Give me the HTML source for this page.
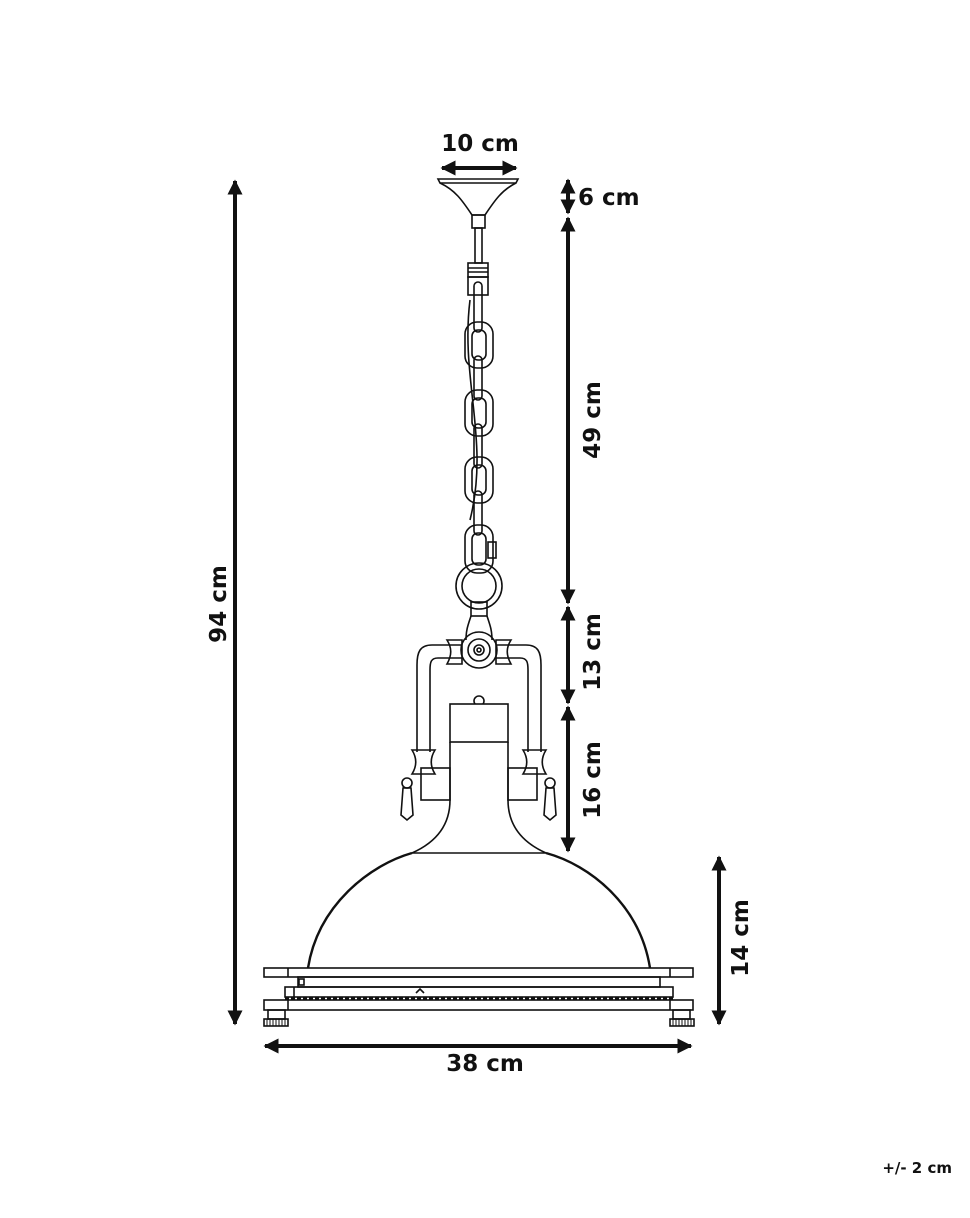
<!DOCTYPE html>
<html><head><style>
html,body{margin:0;padding:0;background:#fff;}
svg text{font-family:"DejaVu Sans","Liberation Sans",sans-serif;font-weight:bold;fill:#111;}
</style></head><body>
<svg width="970" height="1213" viewBox="0 0 970 1213" xmlns="http://www.w3.org/2000/svg">
<defs>
<marker id="a" viewBox="0 0 10 10" refX="9" refY="5" markerWidth="3.8" markerHeight="3.8" orient="auto-start-reverse"><path d="M0,0 L10,5 L0,10z" fill="#111"/></marker>
</defs>
<g stroke="#111" stroke-width="4" marker-start="url(#a)" marker-end="url(#a)">
<line x1="235" y1="181" x2="235" y2="1024"/>
<line x1="442" y1="168" x2="516" y2="168"/>
<line x1="568" y1="180" x2="568" y2="213"/>
<line x1="568" y1="218" x2="568" y2="603"/>
<line x1="568" y1="607" x2="568" y2="703"/>
<line x1="568" y1="707" x2="568" y2="851"/>
<line x1="719" y1="857" x2="719" y2="1024"/>
<line x1="265" y1="1046" x2="691" y2="1046"/>
</g>
<text x="480" y="151" font-size="23" text-anchor="middle">10 cm</text>
<text x="578" y="205" font-size="23">6 cm</text>
<text x="218" y="604" font-size="23" text-anchor="middle" transform="rotate(-90 218 604)" dy="8">94 cm</text>
<text x="592" y="420" font-size="23" text-anchor="middle" transform="rotate(-90 592 420)" dy="8">49 cm</text>
<text x="592" y="652" font-size="23" text-anchor="middle" transform="rotate(-90 592 652)" dy="8">13 cm</text>
<text x="592" y="780" font-size="23" text-anchor="middle" transform="rotate(-90 592 780)" dy="8">16 cm</text>
<text x="740" y="938" font-size="23" text-anchor="middle" transform="rotate(-90 740 938)" dy="8">14 cm</text>
<text x="485" y="1071" font-size="23" text-anchor="middle">38 cm</text>
<text x="952" y="1173" font-size="15" text-anchor="end">+/- 2 cm</text>

<g fill="none" stroke="#111" stroke-width="1.6">
<path d="M438,179 L518,179 L516,183 L440,183 Z"/>
<path d="M440,183 C455,190 462,200 472,215 L485,215 C495,200 502,190 516,183"/>
<rect x="472" y="215" width="13" height="13"/>
<rect x="475" y="228" width="7" height="35"/>
<rect x="468" y="263" width="20" height="14"/>
<line x1="468" y1="268" x2="488" y2="268"/><line x1="468" y1="272" x2="488" y2="272"/>
<rect x="468" y="277" width="20" height="18"/>
<rect x="474" y="282" width="8" height="50" rx="4"/>
<rect x="465" y="322" width="28" height="46" rx="12"/>
<rect x="472" y="330" width="14" height="30" rx="6"/>
<rect x="474" y="356" width="8" height="44" rx="4"/>
<rect x="465" y="390" width="28" height="46" rx="12"/>
<rect x="472" y="398" width="14" height="30" rx="6"/>
<rect x="474" y="424" width="8" height="44" rx="4"/>
<rect x="465" y="457" width="28" height="46" rx="12"/>
<rect x="472" y="465" width="14" height="30" rx="6"/>
<rect x="474" y="491" width="8" height="44" rx="4"/>
<rect x="465" y="525" width="28" height="48" rx="12"/>
<rect x="472" y="533" width="14" height="32" rx="6"/>
<rect x="488" y="542" width="8" height="16"/>
<path d="M470,300 C460,380 490,440 470,520"/>
<circle cx="479" cy="586" r="23"/><circle cx="479" cy="586" r="17"/>
<rect x="471" y="602" width="16" height="14"/>
<path d="M471,616 C468,625 466,630 466,640 M487,616 C490,625 492,630 492,640"/>
<path d="M462,645 L432,645 C420,645 417,652 417,665 L417,752"/>
<path d="M462,658 L438,658 C431,658 430,662 430,670 L430,752"/>
<path d="M496,645 L526,645 C538,645 541,652 541,665 L541,752"/>
<path d="M496,658 L520,658 C527,658 528,662 528,670 L528,752"/>
<path d="M447,640 C452,648 452,655 447,664 L462,664 L462,640 Z"/>
<path d="M511,640 C506,648 506,655 511,664 L496,664 L496,640 Z"/>
<circle cx="479" cy="650" r="18"/><circle cx="479" cy="650" r="11"/><circle cx="479" cy="650" r="5"/><circle cx="479" cy="650" r="2"/>
<path d="M412,750 L435,750 C430,758 430,766 435,774 L412,774 C417,766 417,758 412,750 Z"/>
<path d="M523,750 L546,750 C541,758 541,766 546,774 L523,774 C528,766 528,758 523,750 Z"/>
<rect x="421" y="768" width="29" height="32"/>
<rect x="508" y="768" width="29" height="32"/>
<circle cx="407" cy="783" r="5"/><path d="M403,788 L411,788 L413,815 L407,820 L401,815 Z"/>
<circle cx="550" cy="783" r="5"/><path d="M546,788 L554,788 L556,815 L550,820 L544,815 Z"/>
<circle cx="479" cy="701" r="5"/>
<rect x="450" y="704" width="58" height="38" fill="#fff"/>
<path d="M450,742 L450,800 C450,830 430,845 412,853 M508,742 L508,800 C508,830 528,845 546,853"/>
<line x1="412" y1="853" x2="546" y2="853"/>
<path d="M308,968 C318,905 370,865 412,853 M546,853 C590,865 640,905 650,968" stroke-width="2.4"/>
<rect x="264" y="968" width="429" height="9"/>
<line x1="288" y1="968" x2="288" y2="977"/><line x1="670" y1="968" x2="670" y2="977"/>
<rect x="298" y="977" width="362" height="10"/>
<rect x="299" y="979" width="5" height="6"/>
<rect x="285" y="987" width="388" height="10"/>
<line x1="294" y1="987" x2="294" y2="997"/>
<path d="M416,993 L420,989 L424,993"/>
<line x1="285" y1="998.5" x2="673" y2="998.5" stroke-dasharray="4 2" stroke-width="2"/>
<rect x="264" y="1000" width="429" height="10"/>
<line x1="288" y1="1000" x2="288" y2="1010"/><line x1="670" y1="1000" x2="670" y2="1010"/>
<rect x="268" y="1010" width="17" height="9"/>
<rect x="264" y="1019" width="24" height="7"/>
<rect x="673" y="1010" width="17" height="9"/>
<rect x="670" y="1019" width="24" height="7"/>
</g>
<g stroke="#111" stroke-width="1">
<path d="M267,1019v7M270,1019v7M273,1019v7M276,1019v7M279,1019v7M282,1019v7M285,1019v7M673,1019v7M676,1019v7M679,1019v7M682,1019v7M685,1019v7M688,1019v7M691,1019v7"/>
</g>
</svg>
</body></html>
